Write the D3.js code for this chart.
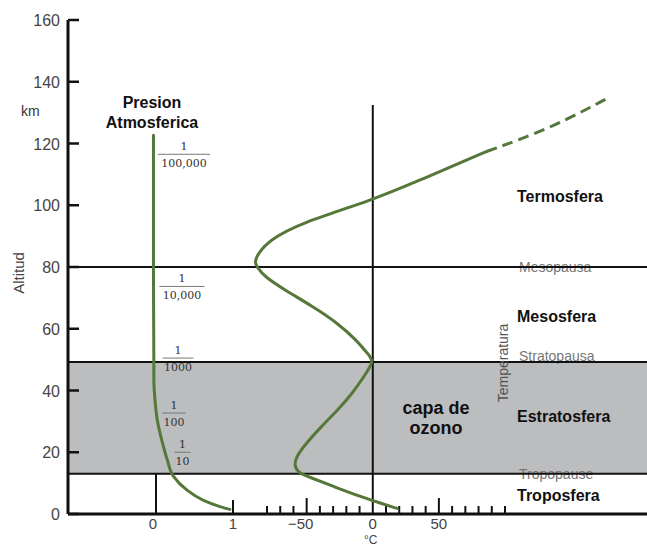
<!DOCTYPE html>
<html>
<head>
<meta charset="utf-8">
<script src="https://cdn.jsdelivr.net/npm/d3@7"></script>
<style>
	body { margin: 0; background: #fff; }
	svg { display: block; font-family: "Liberation Sans", Arial, sans-serif; }
</style>
</head>
<body>
<svg id="chart"></svg>
<script>
// altitude axis (km)
var altTicks = [0, 20, 40, 60, 80, 100, 120, 140, 160];
// temperature axis (°C)
var tempTicks = [-80, -70, -60, -50, -40, -30, -20, -10, 10, 20, 30, 40, 50, 60, 70, 80, 90, 100];
var tempMajor = [-50, 50];
var tempLabels = [-50, 0, 50];

// layer boundaries (km) and their names
var pauseAlt = [80, 49.2, 13];
var pauseNames = ["Mesopausa", "Stratopausa", "Tropopause"];
var layerNames = ["Termosfera", "Mesosfera", "Estratosfera", "Troposfera"];
var layerAlt = [103, 64, 31.8, 6.2];

// temperature profile
var tempAlt = [1.8, 3.5, 5.6, 8.8, 12.1, 13.2, 15.3, 18.6, 22.9, 28.3, 33.7, 39.1, 45.6, 49.6, 52, 56.4, 61.8, 67.2, 72.6, 76.9, 79.9, 81.7, 84.4, 88.7, 94.1, 101.7, 108.2, 115.2, 117.4];
var tempVal = [18.5, 6, -9, -29, -49, -55.4, -59.5, -58, -50.4, -39, -26.5, -15.3, -5, 1, -4, -12.5, -26.5, -45.3, -66.7, -81.9, -87.5, -89.5, -86.7, -78, -55.6, 0, 36, 73.7, 86];
// extrapolated part (dashed)
var tempDashAlt = [117.4, 124.9, 135];
var tempDashVal = [86, 134.6, 179];

// pressure (fraction of sea level pressure)
var presAlt = [1.5, 2.4, 4.5, 7.8, 12.3, 17.5, 24, 30.4, 36.9, 43.4, 49, 60, 80, 100, 122.7];
var presVal = [0.96, 0.83, 0.61, 0.4, 0.225, 0.147, 0.074, 0.017, -0.013, -0.028, -0.028, -0.03, -0.033, -0.033, -0.033];
var presTicks = [0, 1];
var fracDen = ["100,000", "10,000", "1000", "100", "10"];
var fracAlt = [116.5, 73.7, 50.5, 32.7, 20];

var W = 647, H = 546;
var green = "#55783a";

var svg = d3.select("#chart").attr("width", W).attr("height", H);

var y = d3.scaleLinear().domain([0, 160]).range([514, 20]);
var xT = d3.scaleLinear().domain([-80, 100]).range([267, 505]);
var xP = d3.scaleLinear().domain([0, 1]).range([156, 233]);
var x0 = 68, x1 = W;

// stratosphere band
svg.append("rect")
	.attr("x", x0).attr("y", y(pauseAlt[1]))
	.attr("width", x1 - x0).attr("height", y(pauseAlt[2]) - y(pauseAlt[1]))
	.attr("fill", "#bbbdbf");

// pause labels (drawn under the lines)
svg.selectAll("text.pause")
	.data(pauseNames)
	.enter().append("text")
	.attr("class", "pause")
	.attr("x", 519)
	.attr("y", function(d, i){ return y(pauseAlt[i]) + (i == 1 ? -1 : 5); })
	.attr("font-size", 14)
	.attr("fill", "#777")
	.text(function(d){ return d; });

// boundary lines
svg.selectAll("line.pause")
	.data(pauseAlt)
	.enter().append("line")
	.attr("class", "pause")
	.attr("x1", x0).attr("x2", x1)
	.attr("y1", function(d){ return y(d); })
	.attr("y2", function(d){ return y(d); })
	.attr("stroke", "#111").attr("stroke-width", 2);

// 0°C line
svg.append("line")
	.attr("x1", xT(0)).attr("x2", xT(0))
	.attr("y1", y(132.5)).attr("y2", y(0))
	.attr("stroke", "#111").attr("stroke-width", 2);

// pressure 0 line
svg.append("line")
	.attr("x1", xP(0)).attr("x2", xP(0))
	.attr("y1", y(pauseAlt[2])).attr("y2", y(0))
	.attr("stroke", "#111").attr("stroke-width", 2);

// y axis
svg.append("line")
	.attr("x1", x0).attr("x2", x0).attr("y1", y(160)).attr("y2", y(0))
	.attr("stroke", "#111").attr("stroke-width", 3);
svg.selectAll("line.ytick")
	.data(altTicks)
	.enter().append("line")
	.attr("class", "ytick")
	.attr("x1", x0).attr("x2", x0 + 11)
	.attr("y1", function(d){ return y(d); })
	.attr("y2", function(d){ return y(d); })
	.attr("stroke", "#111").attr("stroke-width", 2.5);
svg.selectAll("text.ylab")
	.data(altTicks)
	.enter().append("text")
	.attr("class", "ylab")
	.attr("x", 60)
	.attr("y", function(d){ return y(d) + 6; })
	.attr("text-anchor", "end")
	.attr("font-size", 16)
	.attr("fill", "#444")
	.text(function(d){ return d; });

svg.append("text").attr("x", 21).attr("y", 116)
	.attr("font-size", 14).attr("fill", "#333").text("km");
svg.append("text")
	.attr("transform", "translate(24,273) rotate(-90)")
	.attr("text-anchor", "middle")
	.attr("font-size", 15).attr("fill", "#444").text("Altitud");

// x axis
svg.append("line")
	.attr("x1", x0).attr("x2", x1).attr("y1", y(0)).attr("y2", y(0))
	.attr("stroke", "#111").attr("stroke-width", 3);
svg.selectAll("line.ttick")
	.data(tempTicks)
	.enter().append("line")
	.attr("class", "ttick")
	.attr("x1", function(d){ return xT(d); })
	.attr("x2", function(d){ return xT(d); })
	.attr("y1", y(0))
	.attr("y2", function(d){ return tempMajor.indexOf(d) >= 0 ? y(0) - 16 : y(0) - 8; })
	.attr("stroke", "#111").attr("stroke-width", 2);
svg.append("line")
	.attr("x1", xP(1)).attr("x2", xP(1))
	.attr("y1", y(0)).attr("y2", y(0) - 14)
	.attr("stroke", "#111").attr("stroke-width", 2);

svg.selectAll("text.tlab")
	.data(tempLabels)
	.enter().append("text")
	.attr("class", "tlab")
	.attr("x", function(d){ return xT(d) - (d < 0 ? 6 : 0); })
	.attr("y", 529)
	.attr("text-anchor", "middle")
	.attr("font-size", 15).attr("fill", "#444")
	.text(function(d){ return d < 0 ? "\u2212" + Math.abs(d) : d; });
svg.selectAll("text.plab")
	.data(presTicks)
	.enter().append("text")
	.attr("class", "plab")
	.attr("x", function(d){ return xP(d) - (d == 0 ? 3 : 0); })
	.attr("y", 529)
	.attr("text-anchor", "middle")
	.attr("font-size", 15).attr("fill", "#444")
	.text(function(d){ return d; });
svg.append("text").attr("x", xT(0) - 2).attr("y", 543.5)
	.attr("text-anchor", "middle")
	.attr("font-size", 12).attr("fill", "#444").text("°C");

// temperature curve: a smooth B-spline through the read points
var tempLine = d3.line()
	.x(function(d){ return xT(d[1]); })
	.y(function(d){ return y(d[0]); })
	.curve(d3.curveBasis);

svg.append("path")
	.datum(d3.zip(tempAlt, tempVal))
	.attr("d", tempLine)
	.attr("fill", "none").attr("stroke", green)
	.attr("stroke-width", 3).attr("stroke-linecap", "round");
svg.append("path")
	.datum(d3.zip(tempDashAlt, tempDashVal))
	.attr("d", tempLine)
	.attr("fill", "none").attr("stroke", green)
	.attr("stroke-width", 3).attr("stroke-dasharray", "11,6");

// pressure curve (x is a function of altitude)
var presLine = d3.line()
	.x(function(d){ return xP(d[1]); })
	.y(function(d){ return y(d[0]); })
	.curve(d3.curveMonotoneY);
svg.append("path")
	.datum(d3.zip(presAlt, presVal))
	.attr("d", presLine)
	.attr("fill", "none").attr("stroke", green)
	.attr("stroke-width", 3).attr("stroke-linecap", "round");

// pressure fractions
var frac = svg.selectAll("g.frac")
	.data(fracDen)
	.enter().append("g")
	.attr("class", "frac")
	.attr("transform", function(d, i){
		var cx = [184, 182, 178, 174, 182.5][i];
		return "translate(" + cx + "," + y(fracAlt[i]) + ")";
	});
frac.append("text")
	.attr("y", -4).attr("text-anchor", "middle")
	.attr("font-family", "'DejaVu Serif', serif")
	.attr("font-size", 11).attr("fill", "#333")
	.text("1");
frac.append("line")
	.attr("x1", function(d){ return -d.length * 3.6 - 1; })
	.attr("x2", function(d){ return d.length * 3.6 + 1; })
	.attr("stroke", "#777").attr("stroke-width", 1);
frac.append("text")
	.attr("y", 13).attr("text-anchor", "middle")
	.attr("font-family", "'DejaVu Serif', serif")
	.attr("font-size", 11).attr("fill", "#333")
	.text(function(d){ return d; });

svg.append("text").attr("x", 152).attr("y", 108)
	.attr("text-anchor", "middle").attr("font-size", 16)
	.attr("font-weight", "bold").attr("fill", "#111").text("Presion");
svg.append("text").attr("x", 152).attr("y", 128)
	.attr("text-anchor", "middle").attr("font-size", 16)
	.attr("font-weight", "bold").attr("fill", "#111").text("Atmosferica");

// layer names
svg.selectAll("text.layer")
	.data(layerNames)
	.enter().append("text")
	.attr("class", "layer")
	.attr("x", 517)
	.attr("y", function(d, i){ return y(layerAlt[i]) + 6; })
	.attr("font-size", 16).attr("font-weight", "bold").attr("fill", "#111")
	.text(function(d){ return d; });

svg.append("text")
	.attr("transform", "translate(508,363) rotate(-90)")
	.attr("text-anchor", "middle")
	.attr("font-size", 14).attr("fill", "#555").text("Temperatura");

svg.append("text").attr("x", 436).attr("y", 414)
	.attr("text-anchor", "middle").attr("font-size", 18)
	.attr("font-weight", "bold").attr("fill", "#111").text("capa de");
svg.append("text").attr("x", 436).attr("y", 434)
	.attr("text-anchor", "middle").attr("font-size", 18)
	.attr("font-weight", "bold").attr("fill", "#111").text("ozono");
</script>
</body>
</html>
